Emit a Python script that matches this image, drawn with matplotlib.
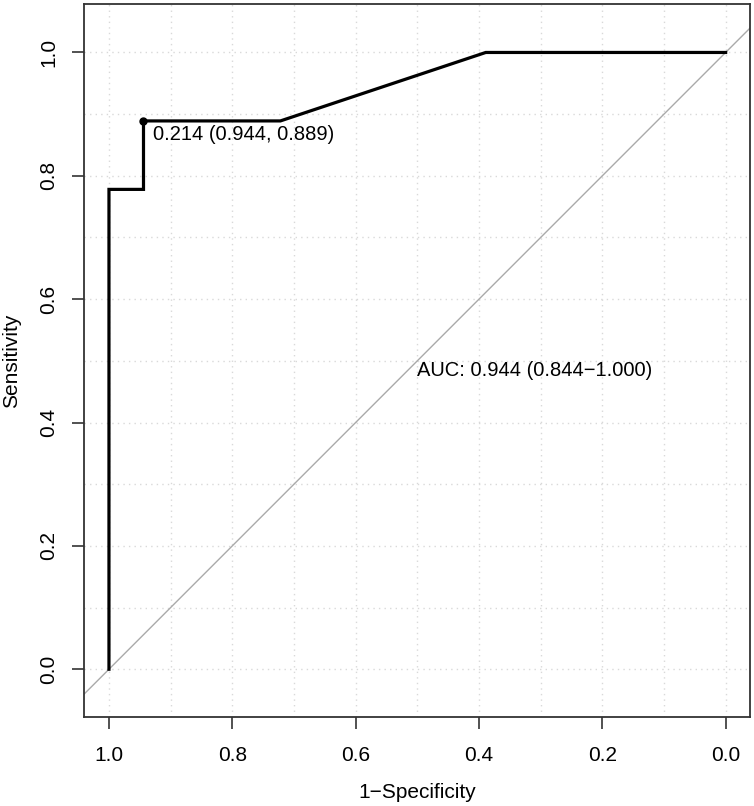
import matplotlib
matplotlib.use("Agg")
import matplotlib.pyplot as plt

# ROC curve points (specificity, sensitivity)
spec = [1.0, 1.0, 0.944, 0.944, 0.722, 0.389, 0.0]
sens = [0.0, 0.778, 0.778, 0.889, 0.889, 1.0, 1.0]

best_spec = 0.944
best_sens = 0.889
best_thres = 0.214
auc_txt = "AUC: 0.944 (0.844\u22121.000)"

ticks = [1.0, 0.8, 0.6, 0.4, 0.2, 0.0]
grid_pos = [0.0, 0.1, 0.2, 0.3, 0.4, 0.5, 0.6, 0.7, 0.8, 0.9, 1.0]

plt.rcParams['font.family'] = ['Liberation Sans', 'DejaVu Sans']

fig = plt.figure(figsize=(7.54, 8.06), dpi=100)
ax = fig.add_axes([0.1118, 0.1100, 0.8833, 0.8846])

for g in grid_pos:
    ax.axvline(g, color="#d9d9d9", lw=1, ls=(0, (1, 3)), zorder=0)
    ax.axhline(g, color="#d9d9d9", lw=1, ls=(0, (1, 3)), zorder=0)

ax.axline((1, 0), (0, 1), color="#aaaaaa", lw=1, zorder=1)
ax.plot(spec, sens, color="black", lw=2.3, zorder=3, solid_joinstyle="miter")
ax.plot([best_spec], [best_sens], "o", color="black", ms=5, zorder=4)
ax.annotate("%.3f (%.3f, %.3f)" % (best_thres, best_spec, best_sens),
            xy=(best_spec, best_sens), xytext=(6.5, -3), textcoords="offset points",
            ha="left", va="top", fontsize=14.5)
ax.text(0.5, 0.5, auc_txt, ha="left", va="top", fontsize=14.5)

ax.set_xlim(1.04, -0.04)
ax.set_ylim(-0.078, 1.078)
ax.set_xticks(ticks)
ax.set_yticks(ticks)
ax.set_xticklabels(["%.1f" % t for t in ticks])
ax.set_yticklabels(["%.1f" % t for t in ticks], rotation=90, va="center")
ax.tick_params(length=8.6, width=1.2, color="#333333", labelsize=15, pad=12)
ax.tick_params(axis="y", pad=10)
for s in ax.spines.values():
    s.set_color("#333333")
    s.set_linewidth(1.3)

ax.set_xlabel("1\u2212Specificity", fontsize=15, labelpad=13)
ax.set_ylabel("Sensitivity", fontsize=15, labelpad=13)

fig.savefig("out.png", dpi=100)
